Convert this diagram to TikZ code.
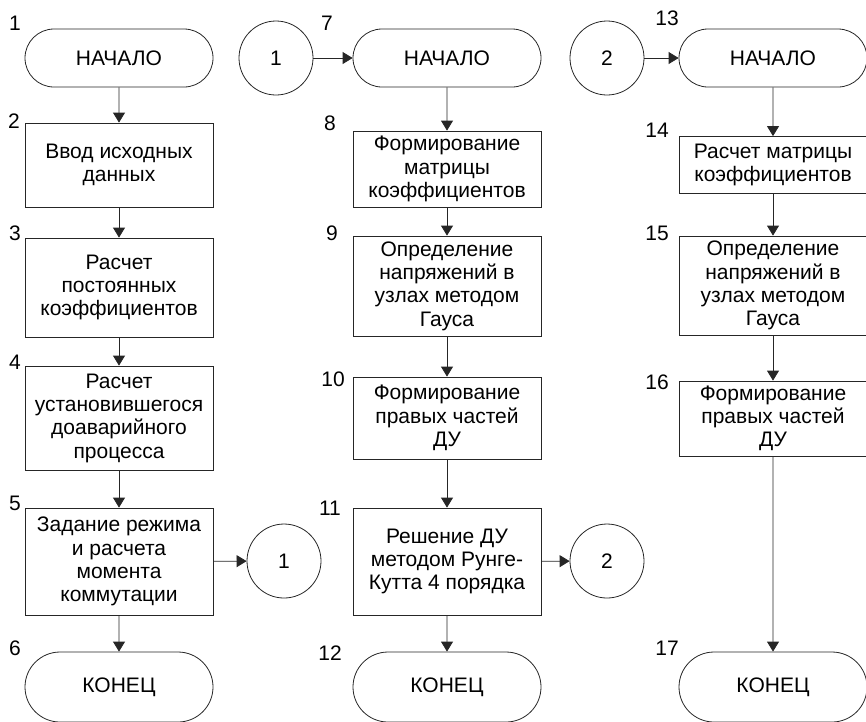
\documentclass[tikz,border=0pt]{standalone}
\usepackage{fontspec}
\setmainfont{Liberation Sans}
\usetikzlibrary{arrows.meta,positioning,shapes.misc}

\begin{document}
\begin{tikzpicture}[x=1pt, y=-1pt,
    termbox/.style={rounded rectangle, draw=black!85, line width=0.8pt, minimum width=188pt,
      minimum height=58pt, inner sep=0pt, font=\fontsize{21}{23.3}\selectfont},
    stepbox/.style={rectangle, draw=black!85, line width=0.8pt, minimum width=188pt,
      inner sep=1pt, align=center, font=\fontsize{21}{23.3}\selectfont},
    joint/.style={circle, draw=black!85, line width=0.8pt, minimum size=74pt, inner sep=0pt,
      font=\fontsize{21}{23.3}\selectfont},
    numlab/.style={inner sep=0pt, font=\fontsize{21}{23.3}\selectfont},
    arr/.style={-{Triangle[length=10pt,width=12pt]}, line width=0.8pt, black!85}
  ]
    \useasboundingbox (0,0) rectangle (866,721);

    % First column: main program
    \node[termbox] (n1) at (119,58) {НАЧАЛО};
    \node[stepbox, minimum height=84pt] (n2) at (119,165) {Ввод исходных\\данных};
    \node[stepbox, minimum height=99pt] (n3) at (119,287.5) {Расчет\\постоянных\\коэффициентов};
    \node[stepbox, minimum height=104pt] (n4) at (119,418) {Расчет\\установившегося\\доаварийного\\процесса};
    \node[stepbox, minimum height=107pt] (n5) at (119,561.5) {Задание режима\\и расчета\\момента\\коммутации};
    \node[termbox, minimum height=70pt] (n6) at (119,687) {КОНЕЦ};
    \node[joint] (j1out) at (284,561) {1};

    % Second column: transient step
    \node[joint] (j1in) at (276,58) {1};
    \node[termbox] (n7) at (447,58) {НАЧАЛО};
    \node[stepbox, minimum height=76pt] (n8) at (447,169) {Формирование\\матрицы\\коэффициентов};
    \node[stepbox, minimum height=100pt] (n9) at (447,286) {Определение\\напряжений в\\узлах методом\\Гауса};
    \node[stepbox, minimum height=82pt] (n10) at (447,418) {Формирование\\правых частей\\ДУ};
    \node[stepbox, minimum height=107pt] (n11) at (447,561.5) {Решение ДУ\\методом Рунге-\\Кутта 4 порядка};
    \node[termbox, minimum height=70pt] (n12) at (447,687) {КОНЕЦ};
    \node[joint] (j2out) at (607,561) {2};

    % Third column: right-hand sides
    \node[joint] (j2in) at (607,58) {2};
    \node[termbox] (n13) at (773,58) {НАЧАЛО};
    \node[stepbox, minimum height=57pt] (n14) at (773,165) {Расчет матрицы\\коэффициентов};
    \node[stepbox, minimum height=99pt] (n15) at (773,285.5) {Определение\\напряжений в\\узлах методом\\Гауса};
    \node[stepbox, minimum height=75pt] (n16) at (773,418.5) {Формирование\\правых частей\\ДУ};
    \node[termbox, minimum height=70pt] (n17) at (773,687) {КОНЕЦ};

    % Block numbers
    \node[numlab] (lab1) at (15,23) {1};
    \node[numlab] (lab2) at (14,121) {2};
    \node[numlab] (lab3) at (15,233) {3};
    \node[numlab] (lab4) at (15,362) {4};
    \node[numlab] (lab5) at (15,503) {5};
    \node[numlab] (lab6) at (15,648) {6};
    \node[numlab] (lab7) at (327,23) {7};
    \node[numlab] (lab8) at (330,123) {8};
    \node[numlab] (lab9) at (332,233) {9};
    \node[numlab] (lab10) at (333,379) {10};
    \node[numlab] (lab11) at (330,508) {11};
    \node[numlab] (lab12) at (330,653) {12};
    \node[numlab] (lab13) at (667,18) {13};
    \node[numlab] (lab14) at (657,130) {14};
    \node[numlab] (lab15) at (657,233) {15};
    \node[numlab] (lab16) at (657,382) {16};
    \node[numlab] (lab17) at (667,648) {17};

    % Arrows first column
    \draw[arr] (n1) -- (n2);
    \draw[arr] (n2) -- (n3);
    \draw[arr] (n3) -- (n4);
    \draw[arr] (n4) -- (n5);
    \draw[arr] (n5) -- (n6);
    \draw[arr] (n5) -- (j1out);

    % Arrows second column
    \draw[arr] (j1in) -- (n7);
    \draw[arr] (n7) -- (n8);
    \draw[arr] (n8) -- (n9);
    \draw[arr] (n9) -- (n10);
    \draw[arr] (n10) -- (n11);
    \draw[arr] (n11) -- (n12);
    \draw[arr] (n11) -- (j2out);

    % Arrows third column
    \draw[arr] (j2in) -- (n13);
    \draw[arr] (n13) -- (n14);
    \draw[arr] (n14) -- (n15);
    \draw[arr] (n15) -- (n16);
    \draw[arr] (n16) -- (n17);
  \end{tikzpicture}
\end{document}
